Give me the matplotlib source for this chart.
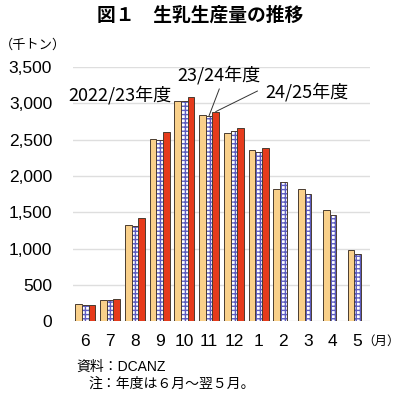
import numpy as np
import matplotlib.pyplot as plt

plt.rcParams['font.family'] = ['Liberation Sans', 'Noto Sans CJK JP', 'DejaVu Sans']

months = ['6', '7', '8', '9', '10', '11', '12', '1', '2', '3', '4', '5']
fy2022 = [230, 285, 1330, 2510, 3035, 2840, 2595, 2355, 1820, 1820, 1530, 975]
fy2023 = [220, 285, 1305, 2500, 3025, 2830, 2620, 2330, 1920, 1755, 1465, 920]
fy2024 = [220, 305, 1420, 2605, 3085, 2885, 2655, 2390]
yticks = [0, 500, 1000, 1500, 2000, 2500, 3000, 3500]

edge = '#4a3c30'
x = np.arange(len(months))
w = 0.27

fig = plt.figure(figsize=(4.0, 3.96), dpi=100)
ax = fig.add_axes([0.1825, 0.189, 0.7425, 0.642])

ax.bar(x - w, fy2022, w, color='#f9d08a', edgecolor=edge, linewidth=0.7, zorder=3)
# hatched blue check pattern, then outline on top
ax.bar(x, fy2023, w, color='white', edgecolor='#5c5cc0', hatch='++++', linewidth=0, zorder=3)
ax.bar(x, fy2023, w, color='none', edgecolor=edge, linewidth=0.7, zorder=4)
ax.bar(x[:len(fy2024)] + w, fy2024, w, color='#e63b1c', edgecolor=edge, linewidth=0.7, zorder=3)

ax.set_xlim(-0.5, 11.5)
ax.set_ylim(0, 3500)
ax.set_yticks(yticks)
ax.set_yticklabels([f'{v:,}' for v in yticks], fontsize=12.5)
ax.set_xticks(x)
ax.set_xticklabels(months, fontsize=12.5)
ax.tick_params(axis='x', length=0, pad=9)
ax.tick_params(axis='y', length=0, pad=15)
for s in ax.spines.values():
    s.set_visible(False)
ax.grid(axis='y', color='#dedede', linewidth=1, zorder=0)
ax.set_axisbelow(True)

jp = ['Noto Sans CJK JP', 'DejaVu Sans']
ax.text(1.4, 3110, '2022/23年度', fontsize=13, family=jp, ha='center', va='center')
ax.text(5.4, 3390, '23/24年度', fontsize=13, family=jp, ha='center', va='center')
ax.text(8.95, 3155, '24/25年度', fontsize=13, family=jp, ha='center', va='center')
ax.plot([5.41, 5], [3196, fy2023[5]], color='#333333', lw=0.7, zorder=5)
ax.plot([6.95, 5 + w], [3168, fy2024[5]], color='#333333', lw=0.7, zorder=5)

fig.text(0.5, 0.962, '図１　生乳生産量の推移', fontsize=13.5, fontweight='bold',
         family=jp, ha='center', va='center')
fig.text(0.0, 0.887, '（千トン）', fontsize=9.5, family=jp, ha='left', va='center')
fig.text(0.905, 0.138, '（月）', fontsize=9, family=jp, ha='left', va='center')
fig.text(0.19, 0.073, '資料：DCANZ', fontsize=10,
         family=['Liberation Sans', 'Noto Sans CJK JP'], ha='left', va='center')
fig.text(0.22, 0.032, '注：年度は６月～翌５月。', fontsize=10, family=jp, ha='left', va='center')

fig.savefig('out.png', dpi=100)
